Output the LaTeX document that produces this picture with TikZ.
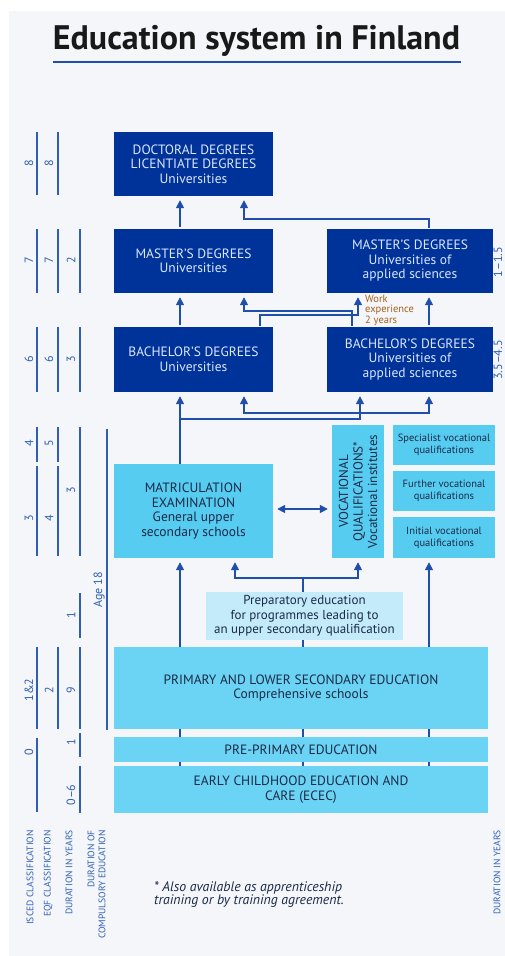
\documentclass[tikz,border=0pt]{standalone}
\usepackage{fontspec}
\setmainfont{PT Sans}
\usetikzlibrary{arrows.meta}
\definecolor{dblue}{HTML}{003399}
\definecolor{lblue}{HTML}{57CCF1}
\definecolor{lblue2}{HTML}{6BD4F4}
\definecolor{pblue}{HTML}{C4EBFA}
\definecolor{abl}{HTML}{1F4FAA}
\definecolor{labc}{HTML}{2F5FB5}
\definecolor{dtext}{HTML}{DCE6FF}
\definecolor{ntext}{HTML}{1B2A48}
\definecolor{wexp}{HTML}{A8601A}
\definecolor{bgc}{HTML}{F4F6F9}
\pgfdeclarelayer{back}
\pgfdeclarelayer{bg}
\pgfsetlayers{back,bg,main}
\tikzset{
  dbox/.style={fill=dblue, text=dtext, align=center, inner sep=0pt, font=\fontsize{13.5}{14.5}\selectfont},
  lbox/.style={fill=lblue, text=ntext, align=center, inner sep=0pt, font=\fontsize{13.5}{14.5}\selectfont},
  lboxb/.style={fill=lblue2, text=ntext, align=center, inner sep=0pt, font=\fontsize{13.5}{14.5}\selectfont},
  arr/.style={draw=abl, line width=1.6pt, -{Triangle[length=8pt,width=8pt]}, shorten >=4pt},
  cline/.style={draw=abl, line width=1.6pt},
  lline/.style={draw=labc, line width=1.5pt},
  lab/.style={text=labc, rotate=90, inner sep=0pt, font=\fontsize{12}{14}\selectfont},
  axlab/.style={text=labc, rotate=90, inner sep=0pt, anchor=east, font=\fontsize{9.5}{11}\selectfont},
}
\begin{document}
\begin{tikzpicture}[x=1pt,y=-1pt]
\useasboundingbox (0,0) rectangle (505,956);
\begin{pgfonlayer}{back}
  \fill[bgc] (9,11) rectangle (505,956);
\end{pgfonlayer}

% title
\node[text=black!90, font=\fontsize{34}{38}\selectfont\bfseries] (title) at (256.5,41) {Education system in Finland};
\draw[draw=abl, line width=2pt] (53,62) -- (461,62);

% dark boxes
\node[dbox, minimum width=159pt, minimum height=64pt] (doc) at (193.5,164) {DOCTORAL DEGREES\\LICENTIATE DEGREES\\Universities};
\node[dbox, minimum width=159pt, minimum height=64pt] (mu) at (193.5,261) {MASTER’S DEGREES\\Universities};
\node[dbox, minimum width=166pt, minimum height=64pt] (mas) at (410,261) {MASTER’S DEGREES\\Universities of\\applied sciences};
\node[dbox, minimum width=159pt, minimum height=65pt] (bu) at (193.5,359.5) {BACHELOR’S DEGREES\\Universities};
\node[dbox, minimum width=166pt, minimum height=65pt] (bas) at (410,359.5) {BACHELOR’S DEGREES\\Universities of\\applied sciences};

% light boxes
\node[lbox, minimum width=159pt, minimum height=94pt] (matric) at (193.5,511) {MATRICULATION\\EXAMINATION\\General upper\\secondary schools};
\node[lbox, minimum width=52pt, minimum height=133pt] (voc) at (358,491.5) {};
\node[text=ntext, rotate=90, align=center, inner sep=0pt, font=\fontsize{13}{14.5}\selectfont] (voct) at (voc.center) {VOCATIONAL\\QUALIFICATIONS*\\Vocational institutes};
\node[lbox, font=\fontsize{10.5}{12}\selectfont, minimum width=102pt, minimum height=40pt] (spec) at (444,445) {Specialist vocational\\qualifications};
\node[lbox, font=\fontsize{10.5}{12}\selectfont, minimum width=102pt, minimum height=40pt] (further) at (444,491) {Further vocational\\qualifications};
\node[lbox, font=\fontsize{10.5}{12}\selectfont, minimum width=102pt, minimum height=41pt] (initial) at (444,537.5) {Initial vocational\\qualifications};
\node[fill=pblue, text=ntext, align=center, inner sep=0pt, minimum width=197pt, minimum height=48pt, font=\fontsize{13}{14.5}\selectfont] (prep) at (304.5,616) {Preparatory education\\for programmes leading to\\an upper secondary qualification};
\node[lboxb, minimum width=374pt, minimum height=82pt] (prim) at (301,688) {PRIMARY AND LOWER SECONDARY EDUCATION\\Comprehensive schools};
\node[lboxb, minimum width=374pt, minimum height=25pt] (preprim) at (301,749.5) {PRE-PRIMARY EDUCATION};
\node[lboxb, minimum width=374pt, minimum height=47pt] (ecec) at (301,789.5) {EARLY CHILDHOOD EDUCATION AND\\CARE (ECEC)};

% work experience
\node[anchor=west, align=left, text=wexp, inner sep=0pt, font=\fontsize{10.5}{10.5}\selectfont] (wexp) at (365,310) {Work\\experience\\2 years};

% column coordinates
\coordinate (cA) at (180,0);
\coordinate (cB) at (244,0);
\coordinate (cC) at (260,0);
\coordinate (cD) at (352,0);
\coordinate (cE) at (358,0);
\coordinate (cF) at (429,0);
\coordinate (cG) at (360,0);
\coordinate (cH) at (235,0);
\coordinate (cI) at (303,0);
\coordinate (cY) at (0,509);
\coordinate (j1) at (180,419);
\coordinate (j2) at (336,413);
\coordinate (j3) at (303,578);

\begin{pgfonlayer}{bg}
  \draw[arr, shorten <=2pt] (mu.north -| cA) -- (doc.south -| cA);
  \draw[arr, shorten <=1pt] (mas.north -| cF) -- ++(0,-10) -| (doc.south -| cB);
  \draw[arr, shorten <=2pt] (bu.north -| cA) -- (mu.south -| cA);
  \draw[arr, shorten <=1pt] (bas.north -| cD) -- ++(0,-16) -| (mu.south -| cB);
  \draw[arr, shorten <=1pt] (bu.north -| cC) -- ++(0,-12) -| (mas.south -| cE);
  \draw[arr, shorten <=2pt] (bas.north -| cF) -- (mas.south -| cF);
  \draw[arr] (matric.north -| cA) -- (bu.south -| cA);
  \draw[arr] (j1) -| (bas.south -| cG);
  \draw[arr] (j2) -| (bu.south -| cB);
  \draw[arr] (j2) -| (bas.south -| cF);
  \draw[arr, {Triangle[length=8pt,width=8pt]}-{Triangle[length=8pt,width=8pt]}, shorten <=4pt] (matric.east |- cY) -- (voc.west |- cY);
  \draw[arr] (ecec.north -| cA) -- (matric.south -| cA);
  \draw[arr] (ecec.north -| cF) -- (initial.south -| cF);
  \draw[cline] (ecec.north -| cI) -- (prep.south -| cI);
  \draw[cline] (prep.north -| cI) -- (j3);
  \draw[arr] (j3) -| (matric.south -| cH);
  \draw[arr] (j3) -| (voc.south);
\end{pgfonlayer}

% left scale
\draw[lline] (37,132) -- (37,195);
\draw[lline] (58,132) -- (58,195);
\node[lab] at (29,163) {8};
\node[lab] at (49,163) {8};
\draw[lline] (37,229) -- (37,293);
\draw[lline] (58,229) -- (58,293);
\draw[lline] (80,229) -- (80,293);
\node[lab] at (29,260) {7};
\node[lab] at (49,260) {7};
\node[lab] at (71,260) {2};
\draw[lline] (37,327) -- (37,392);
\draw[lline] (58,327) -- (58,392);
\draw[lline] (80,327) -- (80,392);
\node[lab] at (29,359) {6};
\node[lab] at (49,359) {6};
\node[lab] at (71,359) {3};
\draw[lline] (37,427) -- (37,462);
\draw[lline] (58,427) -- (58,462);
\node[lab] at (29,443) {4};
\node[lab] at (49,443) {5};
\draw[lline] (37,466) -- (37,556);
\draw[lline] (58,466) -- (58,556);
\node[lab] at (29,518) {3};
\node[lab] at (49,518) {4};
\draw[lline] (80,427) -- (80,556);
\node[lab] at (71,490) {3};
\draw[lline] (107,429) -- (107,730);
\node[lab] at (99,590) {Age 18};
\draw[lline] (80,593) -- (80,638);
\node[lab] at (71,615) {1};
\draw[lline] (37,647) -- (37,729);
\draw[lline] (58,647) -- (58,729);
\draw[lline] (80,647) -- (80,729);
\node[lab] at (29,690) {1\&2};
\node[lab] at (49,690) {2};
\node[lab] at (71,690) {9};
\draw[lline] (37,738) -- (37,812);
\node[lab] at (29,752) {0};
\draw[lline] (80,733) -- (80,757);
\node[lab] at (71,742) {1};
\draw[lline] (80,766) -- (80,813);
\node[lab] at (71,795) {0–6};

% axis captions
\node[axlab] at (30,830) {ISCED CLASSIFICATION};
\node[axlab] at (48,830) {EQF CLASSIFICATION};
\node[axlab] at (69,830) {DURATION IN YEARS};
\node[axlab, align=right] at (96.5,830) {DURATION OF\\COMPULSORY EDUCATION};
\node[lab] at (498,262) {1–1.5};
\node[lab] at (498,360) {3.5–4.5};
\node[axlab] at (497,830) {DURATION IN YEARS};

% footnote
\node[anchor=north west, align=left, text=ntext, inner sep=0pt, font=\fontsize{13.8}{13.5}\selectfont\itshape] (fn) at (154,881) {* Also available as apprenticeship\\training or by training agreement.};
\end{tikzpicture}
\end{document}
